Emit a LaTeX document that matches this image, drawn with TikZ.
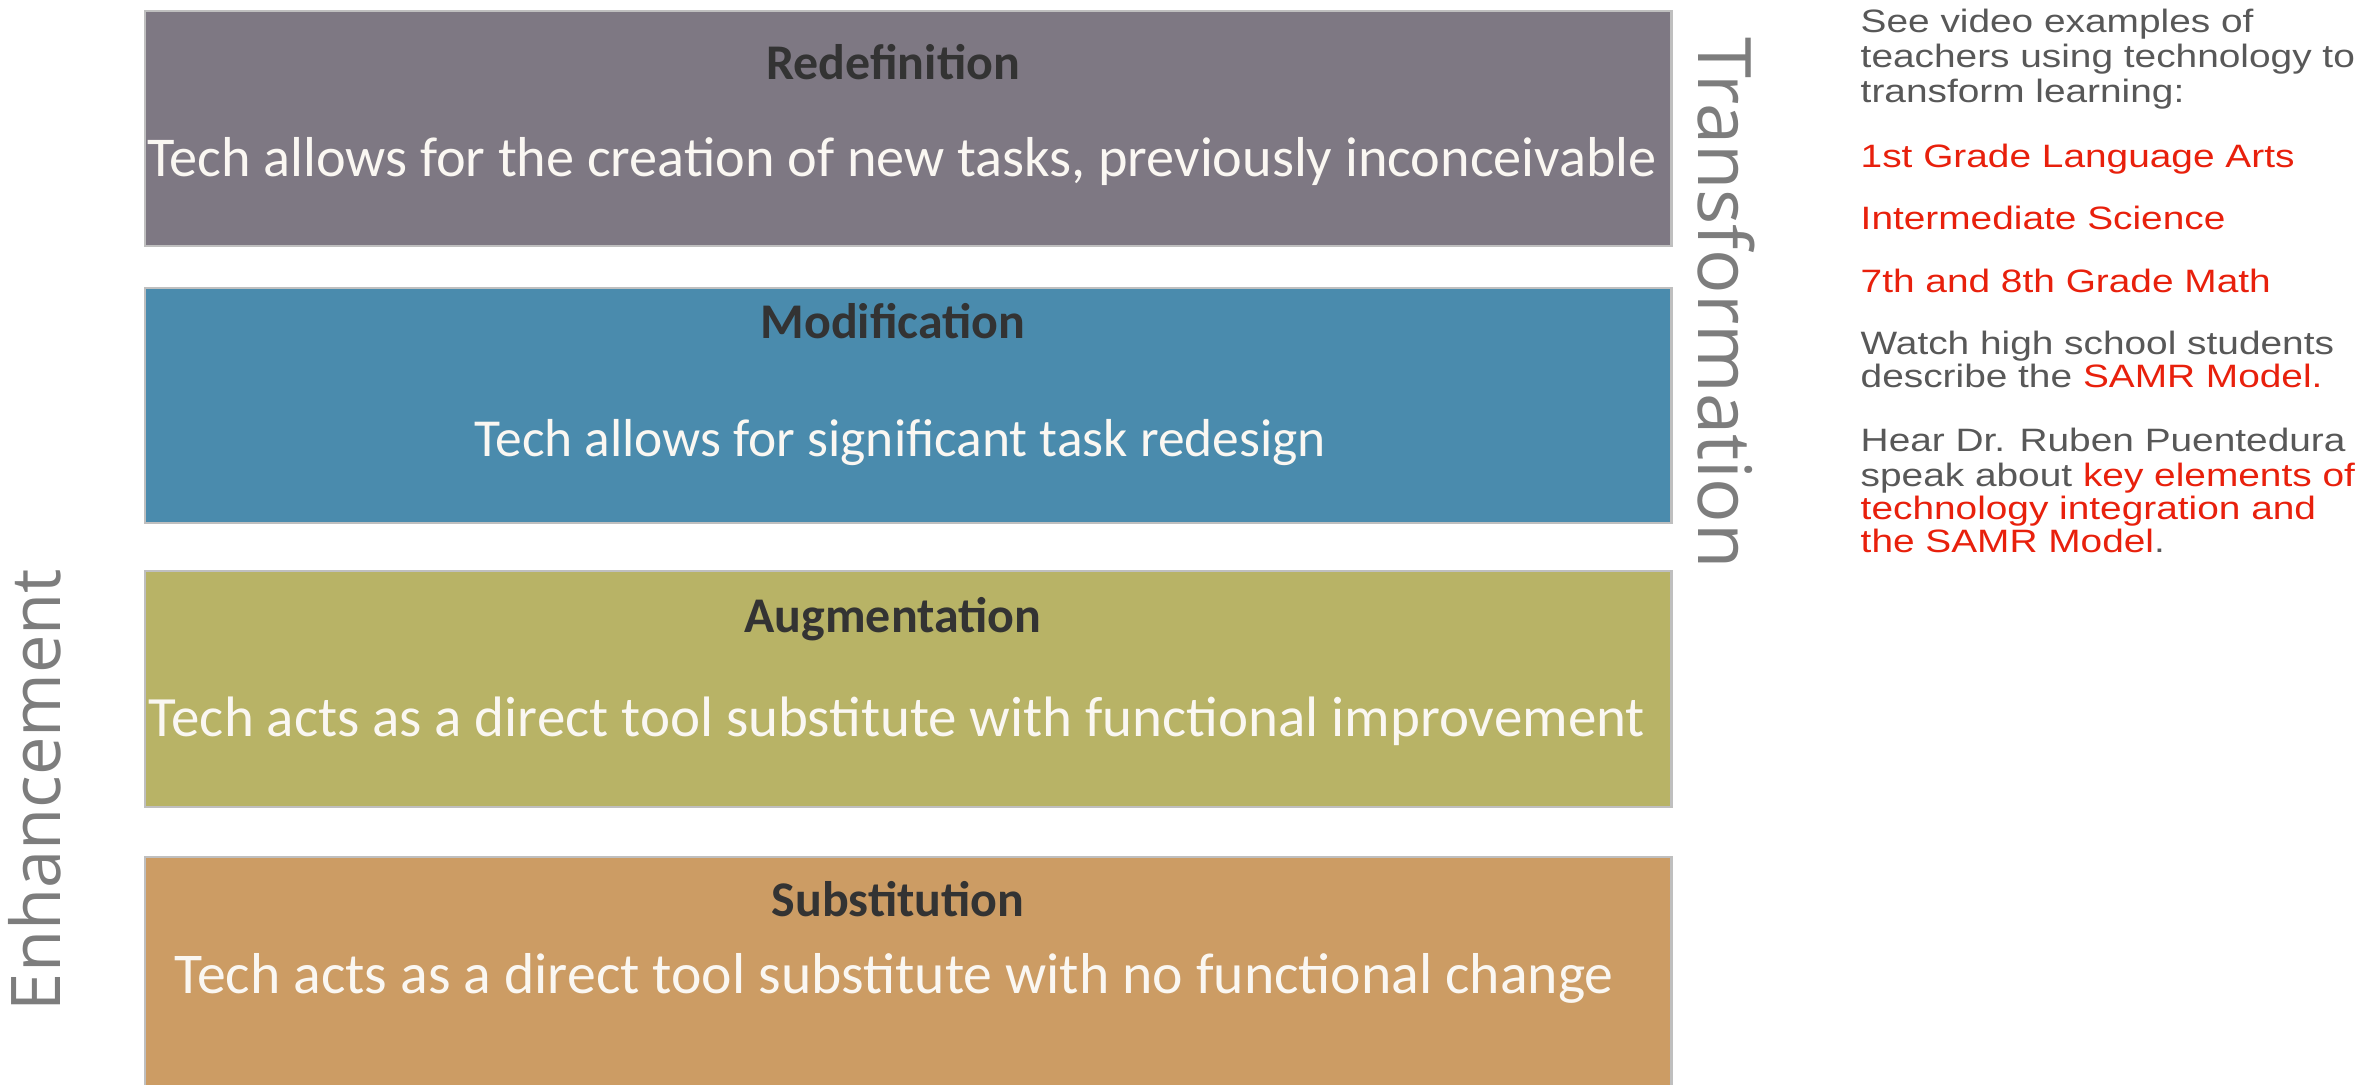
\documentclass[tikz,border=0pt]{standalone}
\usepackage{fontspec}
\setmainfont{Carlito}
\newfontfamily\sidefont{Open Sans}
\newfontfamily\notefont[FakeStretch=1.2]{Liberation Sans}

\definecolor{redefgray}{RGB}{126,120,131}
\definecolor{modblue}{RGB}{74,139,173}
\definecolor{augolive}{RGB}{184,179,102}
\definecolor{subtan}{RGB}{204,156,100}
\definecolor{titledark}{RGB}{51,51,51}
\definecolor{bodycream}{RGB}{250,247,242}
\definecolor{sidegray}{RGB}{125,125,125}
\definecolor{notegray}{RGB}{88,88,88}
\definecolor{linkred}{RGB}{232,32,12}

\begin{document}
\begin{tikzpicture}[x=0.01cm, y=-0.01cm,
    level/.style={draw=black!25, line width=0.6pt, inner sep=0pt,
      minimum width=15.26cm, minimum height=2.35cm},
    title/.style={anchor=base, inner sep=0pt, text=titledark,
      font=\fontsize{14.2}{16}\selectfont\bfseries},
    body/.style={anchor=base, inner sep=0pt, text=bodycream,
      font=\fontsize{#1}{18}\selectfont},
    body/.default=16,
    side/.style={inner sep=0pt, text=sidegray,
      font=\sidefont\fontsize{19.5}{22}\selectfont},
    note/.style={anchor=base west, inner sep=0pt, text=notegray,
      font=\notefont\fontsize{9.2}{10.5}\selectfont}]
  \useasboundingbox (0,0) rectangle (2372,1085);

  % the four SAMR levels
  \node[level, fill=redefgray] (redef) at (908,128.5) {};
  \node[level, fill=modblue] (modif) at (908,405.5) {};
  \node[level, fill=augolive] (augm) at (908,689) {};
  \node[level, fill=subtan] (subst) at (908,974.5) {};

  \node[title] (redeft) at (893,80) {Redefinition};
  \node[body] (redefb) at (902,177) {Tech allows for the creation of new tasks, previously inconceivable};
  \node[title] (modift) at (893,338) {Modification};
  \node[body=15.2] (modifb) at (900,456) {Tech allows for significant task redesign};
  \node[title] (augmt) at (893,632) {Augmentation};
  \node[body=16.2] (augmb) at (897,736) {Tech acts as a direct tool substitute with functional improvement};
  \node[title] (substt) at (898,916) {Substitution};
  \node[body=16.4] (substb) at (894,993) {Tech acts as a direct tool substitute with no functional change};

  % side labels
  \node[side, rotate=90] (enh) at (35,790) {Enhancement};
  \node[side, rotate=-90, font=\sidefont\fontsize{21}{24}\selectfont] (trans) at (1726,303) {Transformation};

  % links column
  \node[note] (n1) at (1860,33) {See video examples of};
  \node[note] (n2) at (1860,68) {teachers using technology to};
  \node[note] (n3) at (1860,103) {transform learning:};
  \node[note, text=linkred] (n4) at (1860,168) {1st Grade Language Arts};
  \node[note, text=linkred] (n5) at (1860,230) {Intermediate Science};
  \node[note, text=linkred] (n6) at (1860,292) {7th and 8th Grade Math};
  \node[note] (n7) at (1860,354) {Watch high school students};
  \node[note] (n8) at (1860,387) {describe the \textcolor{linkred}{SAMR Model.}};
  \node[note] (n9) at (1860,452) {Hear Dr. Ruben Puentedura};
  \node[note] (n10) at (1860,486) {speak about \textcolor{linkred}{key elements of}};
  \node[note, text=linkred] (n11) at (1860,519) {technology integration and};
  \node[note] (n12) at (1860,552) {\textcolor{linkred}{the SAMR Model}.};
\end{tikzpicture}
\end{document}
